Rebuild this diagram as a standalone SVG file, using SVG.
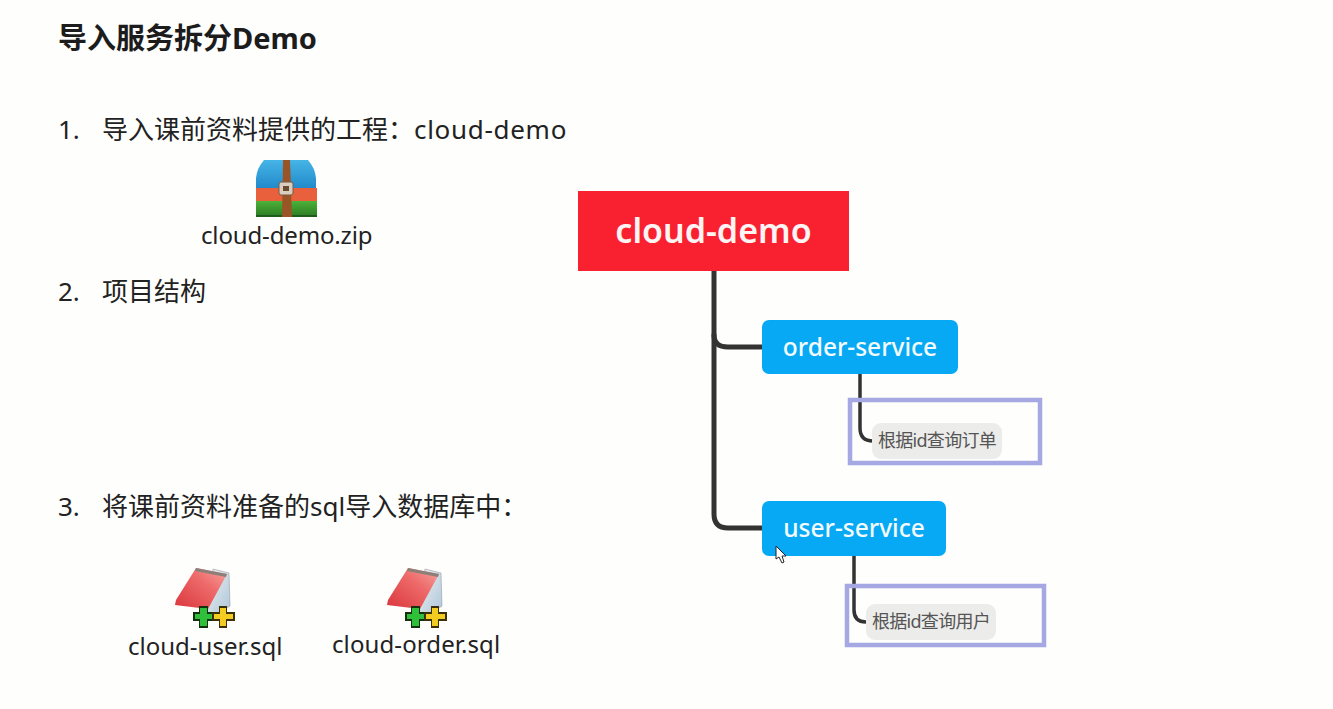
<svg xmlns="http://www.w3.org/2000/svg" width="1333" height="709" viewBox="0 0 1333 709">
<style>
text{font-family:"Noto Sans","Noto Sans CJK SC",sans-serif;fill:#222}
.h{font-size:29px;font-weight:700;fill:#1c1c1c}
.b{font-size:26px}
.f{font-size:24px}
.root{font-size:34px;font-weight:600;fill:#fff4f4;text-anchor:middle}
.svc{font-size:24.500px;font-weight:500;fill:#f4fbff;text-anchor:middle}
.leaf{font-size:18px;letter-spacing:-.7px;fill:#555;text-anchor:middle}
.link{fill:none;stroke:#333;stroke-linecap:round}
.mark{fill:none;stroke:#a5a8e2;stroke-width:4.5}
.sv{fill:#07a9f4}
.lf{fill:#ececea}
</style>
<defs>
<linearGradient id="cover" x1="0" y1="1" x2="1" y2="0"><stop offset="0" stop-color="#d9363c"/><stop offset=".6" stop-color="#ee6a6a"/><stop offset="1" stop-color="#f5a5a0"/></linearGradient>
<linearGradient id="pages" x1="0" y1="0" x2="1" y2="1"><stop offset="0" stop-color="#f4f4f0"/><stop offset="1" stop-color="#a9c4da"/></linearGradient>
<linearGradient id="wrapTop" x1="0" y1="0" x2="0" y2="1"><stop offset="0" stop-color="#45b4e6"/><stop offset="1" stop-color="#1f86c8"/></linearGradient>
<linearGradient id="wrapBottom" x1="0" y1="0" x2="0" y2="1"><stop offset="0" stop-color="#4db23a"/><stop offset="1" stop-color="#2a7a22"/></linearGradient>
<g id="sqlIcon">
<path d="M213 569L229 573L230 606L212 618L205 612Z" fill="url(#pages)" stroke="#99a" stroke-width=".6"/>
<path d="M196 568L227 574L208 609L175 605L176 600Z" fill="url(#cover)"/>
<path d="M196 568L227 574L226 577L195 571Z" fill="#8b7f78"/>
<path d="M193 612h6v-6h9v6h6v9h-6v7h-9v-7h-6Z" fill="#13310f"/>
<path d="M195 614h5v-6h7v6h5v5h-5v7h-7v-7h-5Z" fill="#2fbf3a"/>
<path d="M212 612h7v-6h8v6h8v9h-8v7h-8v-7h-7Z" fill="#3a300a"/>
<path d="M214 614h6v-6h6v6h7v5h-7v7h-6v-7h-6Z" fill="#f2cc20"/>
</g>
</defs>
<rect width="1333" height="709" fill="#fefefd"/>

<text class="h" x="58" y="49">导入服务拆分Demo</text>
<text class="b" x="58" y="139">1.</text>
<text class="b" x="102" y="139">导入课前资料提供的工程：<tspan letter-spacing=".7">cloud-demo</tspan></text>
<text class="b" x="58" y="301">2.</text>
<text class="b" x="102" y="301">项目结构</text>
<text class="b" x="58" y="516">3.</text>
<text class="b" x="102" y="516">将课前资料准备的sql导入数据库中：</text>

<!-- archive file -->
<g id="archive">
<path d="M264 160H308Q315 168 316 178V191H256V178Q257 168 264 160Z" fill="url(#wrapTop)"/>
<rect x="256" y="188" width="61" height="13" fill="#e8603c"/>
<rect x="256" y="201" width="61" height="16" fill="url(#wrapBottom)"/>
<rect x="256" y="215" width="61" height="2" fill="#1d5c1a"/>
<path d="M283 160H290L292 217H282Z" fill="#9a5526"/>
<rect x="279" y="182" width="14" height="13" rx="2" fill="#d8cdbf" stroke="#7a5a40"/>
<rect x="283" y="186" width="6" height="5" fill="#6a4a30"/>
<text class="f" x="201" y="244" letter-spacing="-.15">cloud-demo.zip</text>
</g>

<!-- sql scripts -->
<g id="cloud-user-sql">
<use href="#sqlIcon"/>
<text class="f" x="128" y="655">cloud-user.sql</text>
</g>
<g id="cloud-order-sql">
<use href="#sqlIcon" x="212"/>
<text class="f" x="332" y="653" letter-spacing=".1">cloud-order.sql</text>
</g>

<!-- tree connectors -->
<g id="connectors">
<path class="link" stroke-width="5" d="M714 271V514Q714 528 728 528H762"/>
<path class="link" stroke-width="5" d="M714 335Q714 347 728 347H762"/>
<path class="link" stroke-width="3.5" d="M860 374V428Q860 441 873 441"/>
<path class="link" stroke-width="3.5" d="M854 555V610Q854 622 866 622"/>
</g>

<g id="root">
<rect x="578" y="191" width="271" height="80" fill="#f92030"/>
<text class="root" x="713.500" y="243">cloud-demo</text>
</g>
<g id="order-service">
<rect class="sv" x="762" y="320" width="196" height="54" rx="7"/>
<text class="svc" x="860" y="356">order-service</text>
</g>
<g id="user-service">
<rect class="sv" x="762" y="501" width="184" height="55" rx="7"/>
<text class="svc" x="854" y="537">user-service</text>
</g>
<g id="order-query">
<rect class="lf" x="872" y="423" width="130" height="36" rx="9"/>
<text class="leaf" x="937" y="447">根据id查询订单</text>
</g>
<g id="user-query">
<rect class="lf" x="866" y="604" width="130" height="36" rx="9"/>
<text class="leaf" x="931" y="628">根据id查询用户</text>
</g>
<rect id="order-highlight" class="mark" x="850" y="400" width="190" height="63"/>
<rect id="user-highlight" class="mark" x="847" y="586" width="197" height="59"/>

<!-- pointer -->
<path id="cursor" d="M776 546V559L779 557L782 563L784 562L782 556H786Z" fill="#fff" stroke="#222" stroke-width="1"/>
</svg>
